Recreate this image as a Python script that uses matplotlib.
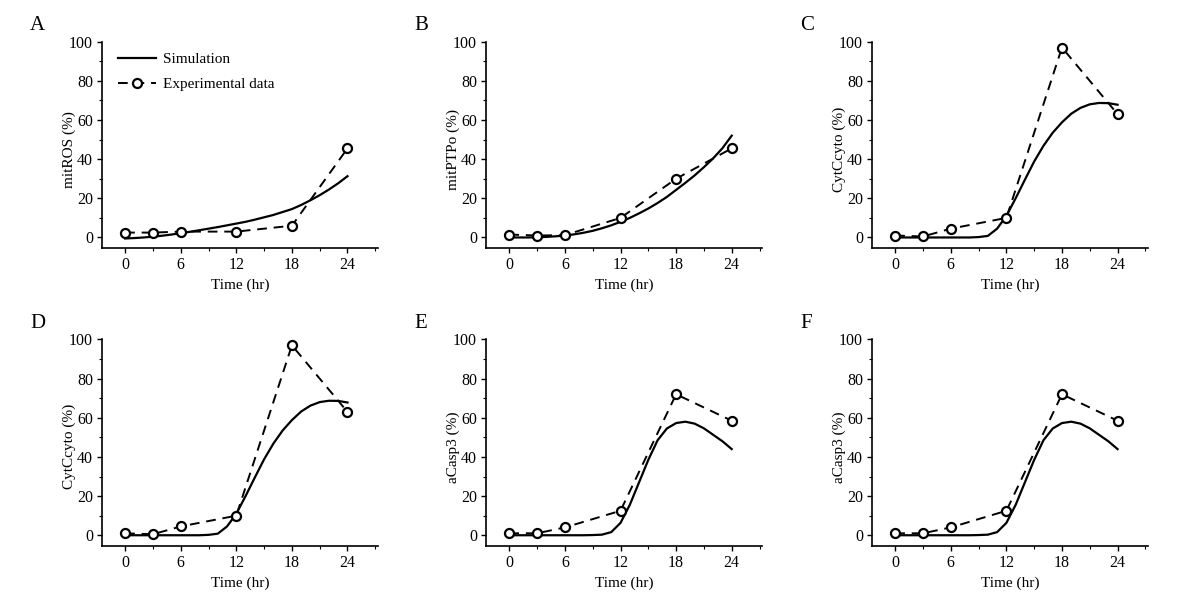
import matplotlib
matplotlib.use("Agg")
import matplotlib.pyplot as plt
from matplotlib.ticker import MultipleLocator

plt.rcParams['font.family'] = ['Liberation Serif', 'DejaVu Serif']
plt.rcParams['font.size'] = 11

# 实验数据时间点
t_exp = [0, 3, 6, 12, 18, 24]
# 模拟曲线时间点 (每小时一个)
t_sim = list(range(25))

mitros_exp = [2.5, 2.5, 3.0, 3.0, 6.0, 45.5]
mitros_sim = [-0.5, -0.3, 0.0, 0.4, 0.9, 1.5, 2.2, 2.9, 3.7, 4.5, 5.3, 6.2, 7.1,
              8.0, 9.1, 10.3, 11.5, 13.0, 14.5, 16.6, 19.0, 21.6, 24.5, 27.7, 31.3]

mitptpo_exp = [1.5, 1.0, 1.2, 10.0, 30.0, 45.5]
mitptpo_sim = [0, 0, 0, 0.1, 0.3, 0.6, 1.0, 1.6, 2.4, 3.4, 4.7, 6.2, 8.0,
               10.0, 12.3, 14.8, 17.6, 20.7, 24.3, 27.9, 31.7, 35.9, 40.4, 45.6, 52.0]

cytc_exp = [1.0, 0.5, 4.5, 10.0, 97.0, 63.0]
cytc_sim = [0, 0, 0, 0, 0, 0, 0, 0, 0, 0.2, 0.8, 4.5, 11.0,
            20.0, 29.5, 38.8, 46.8, 53.5, 58.8, 63.2, 66.2, 68.0, 68.7, 68.6, 67.8]

casp3_exp = [1.0, 1.0, 4.0, 12.5, 72.0, 58.5]
casp3_sim = [0, 0, 0, 0, 0, 0, 0, 0, 0, 0.1, 0.3, 1.6, 6.3,
             15.5, 27.0, 38.5, 48.5, 54.5, 57.3, 58.0, 57.0, 54.6, 51.3, 48.0, 44.0]

panels = [
    ("A", "mitROS (%)", mitros_sim, mitros_exp),
    ("B", "mitPTPo (%)", mitptpo_sim, mitptpo_exp),
    ("C", "CytCcyto (%)", cytc_sim, cytc_exp),
    ("D", "CytCcyto (%)", cytc_sim, cytc_exp),
    ("E", "aCasp3 (%)", casp3_sim, casp3_exp),
    ("F", "aCasp3 (%)", casp3_sim, casp3_exp),
]

fig = plt.figure(figsize=(11.8, 6.04), dpi=100)
lefts = [0.0864, 0.412, 0.739]
bottoms = [0.589, 0.096]

for i, (letter, ylabel, sim, exp) in enumerate(panels):
    row, col = divmod(i, 3)
    ax = fig.add_axes([lefts[col], bottoms[row], 0.234, 0.342])
    ax.plot(t_sim, sim, color='black', lw=1.6, label='Simulation')
    ax.plot(t_exp, exp, color='black', lw=1.4, ls=(0, (5, 3.5)), marker='o', ms=6.5,
            mfc='white', mec='black', mew=1.6, label='Experimental data')
    ax.set_xlim(-2.5, 27.3)
    ax.set_ylim(-5.5, 100)
    ax.xaxis.set_major_locator(MultipleLocator(6))
    ax.xaxis.set_minor_locator(MultipleLocator(3))
    ax.yaxis.set_major_locator(MultipleLocator(20))
    ax.yaxis.set_minor_locator(MultipleLocator(10))
    ax.tick_params(which='major', direction='out', length=3.5, width=1.0,
                   labelsize=11.5, pad=3)
    ax.tick_params(which='minor', direction='out', length=2, width=0.8)
    for s in ['top', 'right']:
        ax.spines[s].set_visible(False)
    for s in ['left', 'bottom']:
        ax.spines[s].set_linewidth(1.2)
    ax.set_xlabel("Time (hr)", fontsize=11, labelpad=4)
    ax.set_ylabel(ylabel, fontsize=11)
    ax.yaxis.set_label_coords(-0.095, 0.48)
    fx = lefts[col] - 0.061
    fy = bottoms[row] + 0.342 + 0.027
    fig.text(fx, fy, letter, fontsize=15, ha='left', va='center')
    if letter == "A":
        ax.legend(loc='upper left', frameon=False, fontsize=11, handlelength=2.5,
                  handletextpad=0.45, borderaxespad=0.3, labelspacing=0.75,
                  bbox_to_anchor=(0.02, 1.0))

fig.savefig("out.png", dpi=100)
